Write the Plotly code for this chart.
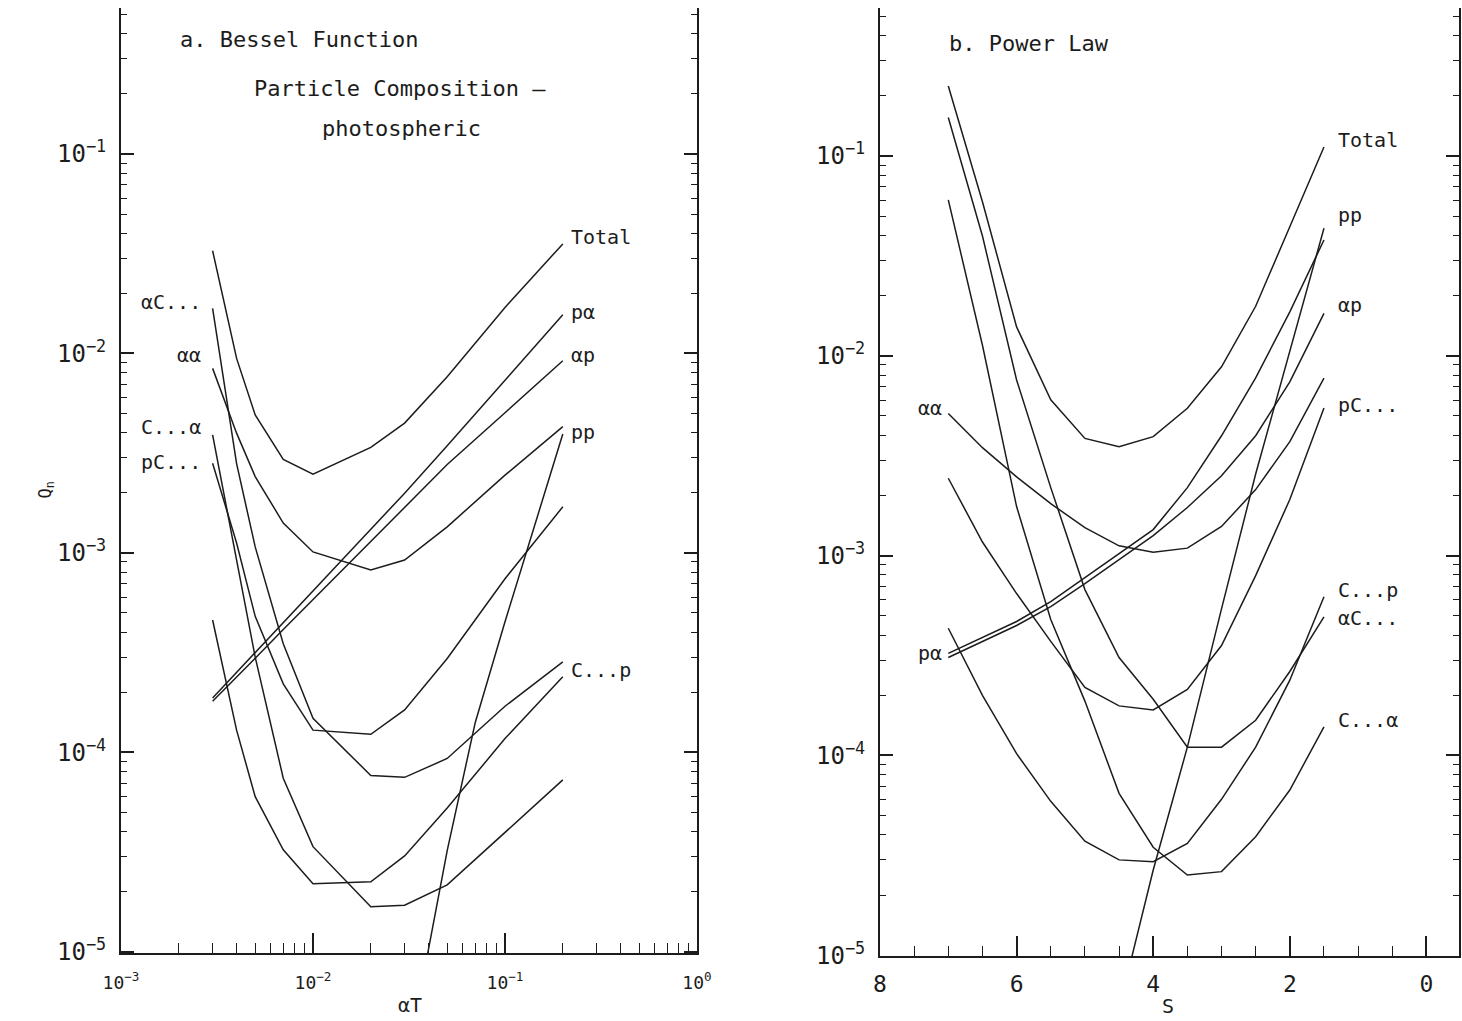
import plotly.graph_objects as go

W, H = 1462, 1021

# ---------------- Panel a: Bessel function (x = alpha T) ----------------
aT = [0.003, 0.004, 0.005, 0.007, 0.01, 0.02, 0.03, 0.05, 0.1, 0.2]
a_total = [3.27e-2, 9.44e-3, 4.91e-3, 2.94e-3, 2.48e-3, 3.38e-3, 4.47e-3, 7.64e-3, 1.70e-2, 3.54e-2]
a_palpha = [1.87e-4, 2.51e-4, 3.16e-4, 4.47e-4, 6.44e-4, 1.31e-3, 1.99e-3, 3.44e-3, 7.33e-3, 1.56e-2]
a_alphap = [1.80e-4, 2.37e-4, 2.96e-4, 4.12e-4, 5.81e-4, 1.14e-3, 1.69e-3, 2.77e-3, 5.04e-3, 9.18e-3]
a_alphaalpha = [8.41e-3, 3.98e-3, 2.41e-3, 1.41e-3, 1.01e-3, 8.20e-4, 9.20e-4, 1.35e-3, 2.45e-3, 4.29e-3]
a_alphaC = [1.68e-2, 2.8e-3, 1.07e-3, 3.5e-4, 1.48e-4, 7.64e-5, 7.48e-5, 9.3e-5, 1.70e-4, 2.84e-4]
a_Calpha = [3.90e-3, 9.3e-4, 3.0e-4, 7.4e-5, 3.36e-5, 1.68e-5, 1.71e-5, 2.16e-5, 3.98e-5, 7.26e-5]
a_pC = [2.81e-3, 1.12e-3, 4.8e-4, 2.2e-4, 1.29e-4, 1.23e-4, 1.63e-4, 2.95e-4, 7.41e-4, 1.70e-3]
a_Cp = [4.60e-4, 1.29e-4, 5.98e-5, 3.24e-5, 2.19e-5, 2.24e-5, 3.02e-5, 5.25e-5, 1.17e-4, 2.39e-4]
aT_pp = [0.03, 0.05, 0.07, 0.1, 0.2]
a_pp = [2.4e-6, 3.21e-5, 1.41e-4, 4.51e-4, 3.94e-3]

# ---------------- Panel b: power law (x = s) ----------------
s = [7, 6.5, 6, 5.5, 5, 4.5, 4, 3.5, 3, 2.5, 2, 1.5]
b_total = [0.224, 0.059, 0.01396, 6.03e-3, 3.86e-3, 3.51e-3, 3.94e-3, 5.46e-3, 8.81e-3, 1.77e-2, 4.43e-2, 0.111]
b_alphaC = [0.156, 3.98e-2, 7.57e-3, 2.19e-3, 6.76e-4, 3.09e-4, 1.91e-4, 1.10e-4, 1.10e-4, 1.50e-4, 2.63e-4, 4.94e-4]
b_Calpha = [6.03e-2, 1.13e-2, 1.76e-3, 4.79e-4, 1.87e-4, 6.46e-5, 3.47e-5, 2.52e-5, 2.62e-5, 3.92e-5, 6.71e-5, 1.39e-4]
b_pC = [2.44e-3, 1.17e-3, 6.46e-4, 3.72e-4, 2.19e-4, 1.77e-4, 1.69e-4, 2.14e-4, 3.55e-4, 7.94e-4, 1.91e-3, 5.48e-3]
b_Cp = [4.33e-4, 2.0e-4, 1.02e-4, 5.89e-5, 3.72e-5, 3.0e-5, 2.94e-5, 3.63e-5, 6.03e-5, 1.10e-4, 2.38e-4, 6.22e-4]
b_alphaalpha = [5.15e-3, 3.47e-3, 2.48e-3, 1.82e-3, 1.38e-3, 1.12e-3, 1.04e-3, 1.09e-3, 1.40e-3, 2.14e-3, 3.72e-3, 7.74e-3]
b_palpha = [3.24e-4, 3.89e-4, 4.68e-4, 5.89e-4, 7.76e-4, 1.02e-3, 1.35e-3, 2.19e-3, 3.98e-3, 7.76e-3, 1.66e-2, 3.8e-2]
b_alphap = [3.09e-4, 3.72e-4, 4.47e-4, 5.56e-4, 7.24e-4, 9.55e-4, 1.26e-3, 1.74e-3, 2.51e-3, 3.98e-3, 7.41e-3, 1.63e-2]
s_pp = [4.5, 4, 3.5, 3, 2.5, 2, 1.5]
b_pp = [5.4e-6, 2.67e-5, 1.10e-4, 5.41e-4, 2.56e-3, 1.04e-2, 4.35e-2]

ya_ticks = [1e-5, 1e-4, 1e-3, 1e-2, 1e-1]
ya_text = ["10<sup>\u22125</sup>", "10<sup>\u22124</sup>", "10<sup>\u22123</sup>",
           "10<sup>\u22122</sup>", "10<sup>\u22121</sup>"]
xa_ticks = [1e-3, 1e-2, 1e-1, 1]
xa_text = ["10<sup>\u22123</sup>", "10<sup>\u22122</sup>", "10<sup>\u22121</sup>", "10<sup>0</sup>"]
xb_ticks = [8, 6, 4, 2, 0]

INK = "#1c1c1c"
FONT = "DejaVu Sans Mono, DejaVu Sans"
LW = 1.5

fig = go.Figure()

def add(x, y, xa, ya):
    fig.add_trace(go.Scatter(x=x, y=y, mode="lines", xaxis=xa, yaxis=ya,
                             line=dict(color=INK, width=LW), showlegend=False,
                             hoverinfo="skip"))

for ys in [a_total, a_palpha, a_alphap, a_alphaalpha, a_alphaC, a_Calpha, a_pC, a_Cp]:
    add(aT, ys, "x", "y")
add(aT_pp, a_pp, "x", "y")
for ys in [b_total, b_alphaC, b_Calpha, b_pC, b_Cp, b_alphaalpha, b_palpha, b_alphap]:
    add(s, ys, "x2", "y2")
add(s_pp, b_pp, "x2", "y2")

def dom_x(p0, p1):
    return [p0 / W, p1 / W]

def dom_y(top, bottom):
    return [1 - bottom / H, 1 - top / H]

common_y = dict(type="log", showline=True, linecolor=INK, linewidth=2, mirror="allticks",
                ticks="inside", ticklen=13, tickwidth=1.5, tickcolor=INK,
                showgrid=False, zeroline=False, automargin=False, ticklabelstandoff=8,
                tickfont=dict(family=FONT, size=24, color=INK),
                minor=dict(ticks="inside", ticklen=6, tickwidth=1.2, tickcolor=INK,
                           dtick="D1", showgrid=False))

fig.update_layout(
    width=W, height=H, margin=dict(l=0, r=0, t=0, b=0, autoexpand=False),
    paper_bgcolor="white", plot_bgcolor="white",
    font=dict(family=FONT, color=INK),
    xaxis=dict(type="log", domain=dom_x(121, 697), range=[-3, 0], anchor="y",
               showline=True, linecolor=INK, linewidth=2, mirror=False,
               ticks="inside", ticklen=20, tickwidth=1.5, tickcolor=INK,
               tickvals=xa_ticks, ticktext=xa_text, showgrid=False, zeroline=False,
               automargin=False, ticklabelstandoff=12,
               tickfont=dict(family=FONT, size=18, color=INK),
               minor=dict(ticks="inside", ticklen=10, tickwidth=1.2, tickcolor=INK,
                          dtick="D1", showgrid=False)),
    yaxis=dict(domain=dom_y(8, 953), range=[-5.007, -0.268], anchor="x",
               tickvals=ya_ticks, ticktext=ya_text, **common_y),
    xaxis2=dict(domain=dom_x(880, 1459), range=[8, -0.477], anchor="y2",
                showline=True, linecolor=INK, linewidth=2, mirror=False,
                ticks="inside", ticklen=20, tickwidth=1.5, tickcolor=INK,
                tickvals=xb_ticks, showgrid=False, zeroline=False,
                automargin=False, ticklabelstandoff=6,
                tickfont=dict(family=FONT, size=23, color=INK),
                minor=dict(ticks="inside", ticklen=10, tickwidth=1.2, tickcolor=INK,
                           dtick=0.5, showgrid=False)),
    yaxis2=dict(domain=dom_y(8, 956), range=[-5.004, -0.259], anchor="x2",
                tickvals=ya_ticks, ticktext=ya_text, **common_y),
)

def txt(px, py, text, anchor="left", size=20):
    fig.add_annotation(x=px / W, y=1 - py / H, xref="paper", yref="paper",
                       text=text, showarrow=False, xanchor=anchor, yanchor="middle",
                       font=dict(family=FONT, size=size, color=INK))

# panel a texts
txt(178, 40, "a. Bessel Function", size=22)
txt(252, 88, "Particle Composition \u2013", size=22)
txt(320, 128, "photospheric", size=22)
txt(569, 237, "Total")
txt(569, 312, "p\u03b1")
txt(569, 355, "\u03b1p")
txt(569, 432, "pp")
txt(569, 670, "C...p")
txt(203, 302, "\u03b1C...", anchor="right")
txt(203, 355, "\u03b1\u03b1", anchor="right")
txt(203, 427, "C...\u03b1", anchor="right")
txt(203, 462, "pC...", anchor="right")
txt(410, 1005, "\u03b1T", anchor="center", size=20)
fig.add_annotation(x=32 / W, y=1 - 490 / H, xref="paper", yref="paper",
                   text="Q<sub>n</sub>", showarrow=False, textangle=-90,
                   font=dict(family=FONT, size=17, color=INK))

# panel b texts
txt(947, 43, "b. Power Law", size=22)
txt(1336, 140, "Total")
txt(1336, 215, "pp")
txt(1336, 305, "\u03b1p")
txt(1336, 405, "pC...")
txt(1336, 590, "C...p")
txt(1336, 618, "\u03b1C...")
txt(1336, 720, "C...\u03b1")
txt(944, 408, "\u03b1\u03b1", anchor="right")
txt(944, 653, "p\u03b1", anchor="right")
txt(1168, 1006, "S", anchor="center", size=20)

fig.write_html("out.html")
